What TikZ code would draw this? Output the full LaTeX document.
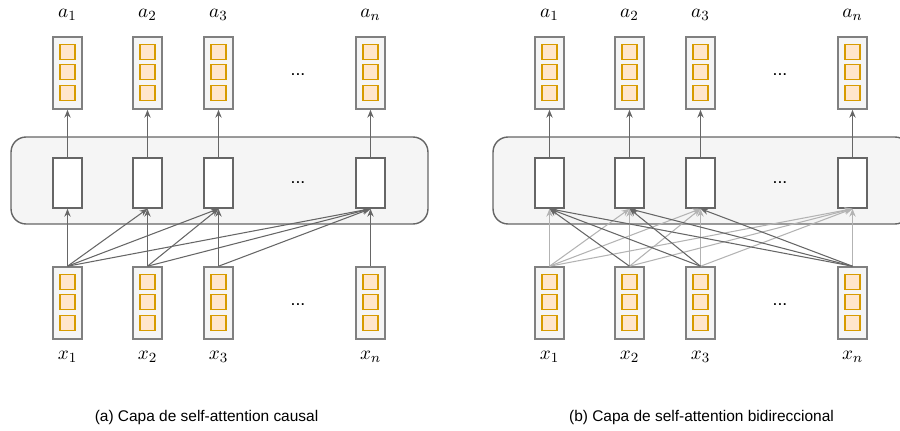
\documentclass[tikz,border=0pt]{standalone}
\usepackage{fontspec}
\newfontfamily\capfont{Liberation Sans}
\usetikzlibrary{arrows.meta,positioning}
\definecolor{edgegray}{HTML}{666666}
\definecolor{fadegray}{HTML}{B3B3B3}
\definecolor{colgray}{HTML}{808080}
\definecolor{panelfill}{HTML}{F5F5F5}
\definecolor{cellfill}{HTML}{FFE6CC}
\definecolor{celldraw}{HTML}{D79B00}

\begin{document}
\begin{tikzpicture}[x=0.02cm, y=-0.02cm,
  nbase/.style={draw=edgegray, line width=0.9pt, inner sep=0pt, minimum width=0.58cm},
  ncol/.style={nbase, draw=colgray, fill=panelfill, minimum height=1.44cm},
  nhid/.style={nbase, fill=white, minimum height=1cm},
  ncell/.style={draw=celldraw, line width=0.8pt, fill=cellfill, minimum size=0.3cm, inner sep=0pt},
  nlayer/.style={draw=edgegray, line width=0.8pt, fill=panelfill, rounded corners=0.3cm, minimum width=8.34cm, minimum height=1.74cm},
  nlab/.style={inner sep=0pt, font=\fontsize{11}{13}\selectfont},
  ndots/.style={inner sep=0pt, font=\capfont\normalsize},
  ncap/.style={inner sep=0pt, font=\capfont\fontsize{8.8}{10}\selectfont},
  conn/.style={draw=edgegray, line width=0.6pt, -{Stealth[length=4.5pt,width=3.6pt]}},
  connl/.style={conn, draw=fadegray}
 ]
  \useasboundingbox (0,0) rectangle (900,430);

  \foreach \p/\dx/\capx/\captxt in {a/0/206.5/{(a) Capa de self-attention causal},b/482/701.5/{(b) Capa de self-attention bidireccional}} {
   \node [nlayer] (layer\p) at (219.5+\dx,180.5) {};
   \foreach \i/\cx/\s in {1/67.5/1,2/147.5/2,3/218.5/3,4/370.5/n} {
    \node [ncol] (in\p\i) at (\cx+\dx,303) {};
    \node [ncol] (out\p\i) at (\cx+\dx,73) {};
    \node [nhid] (h\p\i) at (\cx+\dx,183) {};
    \foreach \k/\dy in {1/-21,2/-1,3/20} {
     \node [ncell] (in\p\i-\k) at (\cx+\dx,303+\dy) {};
     \node [ncell] (out\p\i-\k) at (\cx+\dx,73+\dy) {};
    }
    \node [nlab] (x\p\i) at (\cx+\dx,357) {$x_{\s}$};
    \node [nlab] (a\p\i) at (\cx+\dx,15) {$a_{\s}$};
    \draw [conn] (h\p\i) -- (out\p\i);
   }
   \node [ndots] (dtop\p) at (298+\dx,75) {...};
   \node [ndots] (dmid\p) at (298+\dx,183) {...};
   \node [ndots] (dbot\p) at (298+\dx,305) {...};
   \node [ncap] (cap\p) at (\capx,417) {\captxt};
  }

  % causal
  \foreach \i in {1,...,4}
   \foreach \j in {\i,...,4}
    \draw [conn] (ina\i.north) -- (ha\j.south);

  % bidireccional
  \foreach \i in {1,...,4}
   \foreach \j in {\i,...,4}
    \draw [connl] (inb\i.north) -- (hb\j.south);
  \foreach \i in {2,...,4} {
   \pgfmathtruncatemacro{\m}{\i-1}
   \foreach \j in {1,...,\m}
    \draw [conn] (inb\i.north) -- (hb\j.south);
  }
\end{tikzpicture}
\end{document}
